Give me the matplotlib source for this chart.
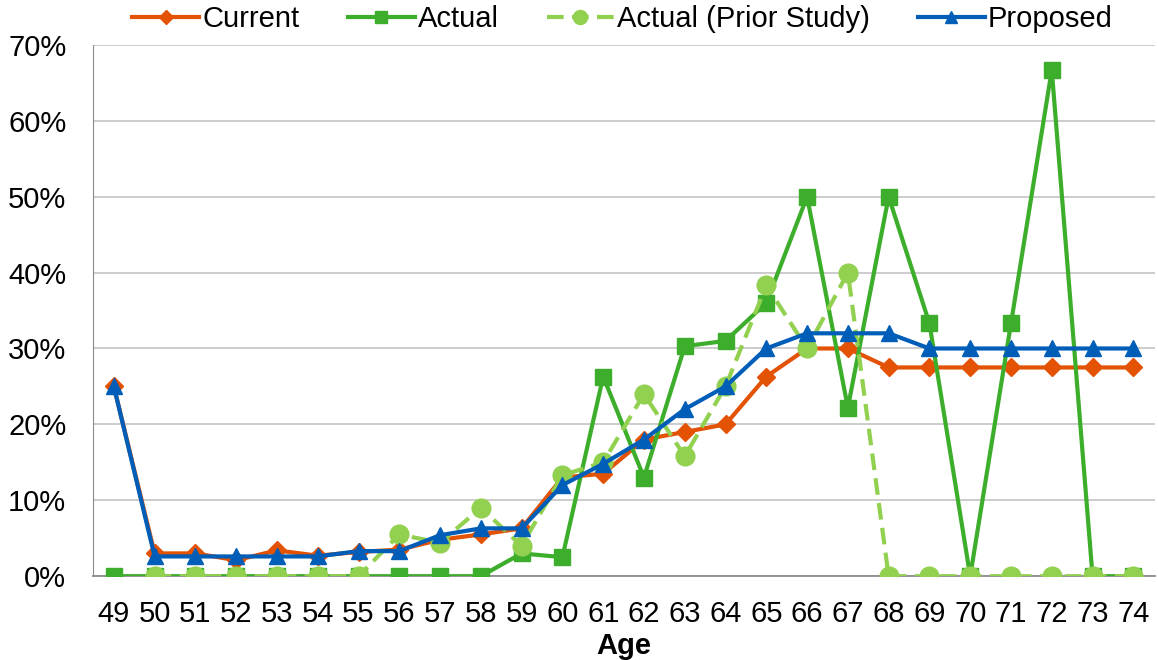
import matplotlib
import numpy as np

matplotlib.use("Agg")
import matplotlib.pyplot as plt
from matplotlib.ticker import FuncFormatter

plt.rcParams["font.family"] = ["Liberation Sans", "DejaVu Sans"]

ages = list(range(49, 75))

# retirement rates by age, in percent
current = [25.0, 3.0, 3.0, 2.1, 3.4, 2.7, 3.2, 3.5, 4.8, 5.5, 6.3, 13.0, 13.5,
           18.0, 19.0, 20.0, 26.3, 30.0, 30.0, 27.5, 27.5, 27.5, 27.5, 27.5,
           27.5, 27.5]
actual = [0, 0, 0, 0, 0, 0, 0, 0, 0, 0, 3.0, 2.5, 26.3, 13.0, 30.3, 31.0,
          36.0, 50.0, 22.2, 50.0, 33.3, 0, 33.3, 66.7, 0, 0]
prior_study = [np.nan, 0, 0, 0, 0, 0, 0, 5.5, 4.4, 9.0, 4.0, 13.3, 15.0, 24.0,
               15.8, 25.0, 38.3, 30.0, 40.0, 0, 0, 0, 0, 0, 0, 0]
proposed = [25.0, 2.6, 2.6, 2.6, 2.6, 2.6, 3.3, 3.3, 5.4, 6.3, 6.3, 12.0,
            14.8, 18.0, 22.0, 25.0, 30.0, 32.0, 32.0, 32.0, 30.0, 30.0, 30.0,
            30.0, 30.0, 30.0]

fig = plt.figure(figsize=(11.58, 6.6), dpi=100)
ax = fig.add_axes([0.080, 0.127, 0.917, 0.805])

l_cur, = ax.plot(ages, current, color="#E35205", lw=3, marker="D", ms=9,
                 label="Current", zorder=3)
l_act, = ax.plot(ages, actual, color="#3DAE2B", lw=3, marker="s", ms=11.5,
                 label="Actual", zorder=4)
l_pri, = ax.plot(ages, prior_study, color="#92D050", lw=3, marker="o", ms=13.5,
                 ls=(0, (4, 2)), label="Actual (Prior Study)", zorder=5)
l_pro, = ax.plot(ages, proposed, color="#005EB8", lw=3, marker="^", ms=12,
                 label="Proposed", zorder=6)

ax.set_xlim(48.48, 74.52)
ax.set_ylim(0, 70)
ax.set_yticks(np.arange(0, 71, 10))
ax.yaxis.set_major_formatter(FuncFormatter(lambda v, _: f"{v:.0f}%"))
ax.set_xticks(ages)
ax.tick_params(axis="both", length=0, labelsize=21, colors="black")
ax.tick_params(axis="x", pad=17)
ax.tick_params(axis="y", pad=19)
ax.grid(axis="y", color="#C8C8C8", lw=1.3)
ax.set_axisbelow(True)

for side in ("top", "right"):
    ax.spines[side].set_visible(False)
ax.spines["left"].set_color("#8C8C8C")
ax.spines["bottom"].set_color("#8C8C8C")
ax.spines["bottom"].set_linewidth(1.3)

ax.set_xlabel("Age", fontsize=21, fontweight="bold", labelpad=3)

fig.legend(handles=[l_cur, l_act, l_pri, l_pro], loc="upper center",
           bbox_to_anchor=(0.5376, 1.032), ncol=4, frameon=False, fontsize=21,
           handlelength=2.3, handletextpad=0.1, columnspacing=1.65,
           markerscale=0.75)

fig.savefig("out.png", dpi=100)
